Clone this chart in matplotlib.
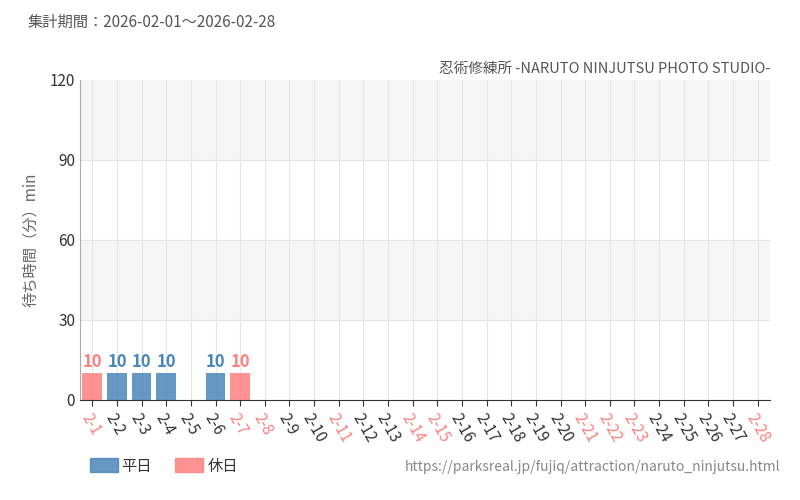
import matplotlib
matplotlib.use("Agg")
import matplotlib.pyplot as plt

plt.rcParams['font.family'] = ['Noto Sans CJK JP', 'DejaVu Sans']

days = [f"2-{d}" for d in range(1, 29)]
holidays = ["2-1", "2-7", "2-8", "2-11", "2-14", "2-15", "2-21", "2-22", "2-23", "2-28"]
waits = {"2-1": 10, "2-2": 10, "2-3": 10, "2-4": 10, "2-6": 10, "2-7": 10}

BLUE = "#4a86b8"
RED = "#ff7f7f"

fig = plt.figure(figsize=(8, 5), dpi=100)
ax = fig.add_axes([0.10, 0.20, 0.8625, 0.64])

for lo in (30, 90):
    ax.axhspan(lo, lo + 30, color="#f5f5f5", zorder=0)
for y in (30, 60, 90):
    ax.axhline(y, color="#e6e6e6", lw=0.8, zorder=0.5)
for i in range(len(days)):
    ax.axvline(i, color="#e6e6e6", lw=0.8, zorder=0.5)

for i, d in enumerate(days):
    if d in waits:
        hol = d in holidays
        c = RED if hol else BLUE
        ax.bar(i, waits[d], width=0.8, color=c, alpha=0.85, zorder=2)
        ax.text(i, waits[d] + 1, str(waits[d]), ha="center", va="bottom",
                fontsize=12, fontweight="bold", color=c, zorder=3)

ax.set_xlim(-0.5, len(days) - 0.5)
ax.set_ylim(0, 120)
ax.set_yticks([0, 30, 60, 90, 120])
ax.tick_params(axis="y", length=0, labelsize=11, labelcolor="#333333")
ax.set_xticks(range(len(days)))
ax.set_xticklabels(days, rotation=-60, ha="left", rotation_mode="anchor", fontsize=11)
for lbl in ax.get_xticklabels():
    lbl.set_color(RED if lbl.get_text() in holidays else "#333333")
ax.tick_params(axis="x", length=4, color="#333333")
for s in ("top", "right"):
    ax.spines[s].set_visible(False)
ax.spines["left"].set_color("#aaaaaa")
ax.spines["bottom"].set_color("#333333")
ax.set_ylabel("待ち時間（分）min", fontsize=11, color="#666666", labelpad=8)

fig.text(0.035, 0.955, "集計期間：2026-02-01～2026-02-28", fontsize=11, color="#555555", va="center")
fig.text(0.9625, 0.862, "忍術修練所 -NARUTO NINJUTSU PHOTO STUDIO-", fontsize=10.5,
         color="#555555", ha="right", va="center")
fig.text(0.975, 0.065, "https://parksreal.jp/fujiq/attraction/naruto_ninjutsu.html",
         fontsize=10, color="#888888", ha="right", va="center")

fig.patches.append(plt.Rectangle((0.1125, 0.057), 0.035, 0.028, transform=fig.transFigure,
                                 color=BLUE, alpha=0.85, figure=fig))
fig.text(0.152, 0.067, "平日", fontsize=11, color="#333333", va="center")
fig.patches.append(plt.Rectangle((0.219, 0.057), 0.035, 0.028, transform=fig.transFigure,
                                 color=RED, alpha=0.85, figure=fig))
fig.text(0.259, 0.067, "休日", fontsize=11, color="#333333", va="center")

fig.savefig("out.png", dpi=100)
